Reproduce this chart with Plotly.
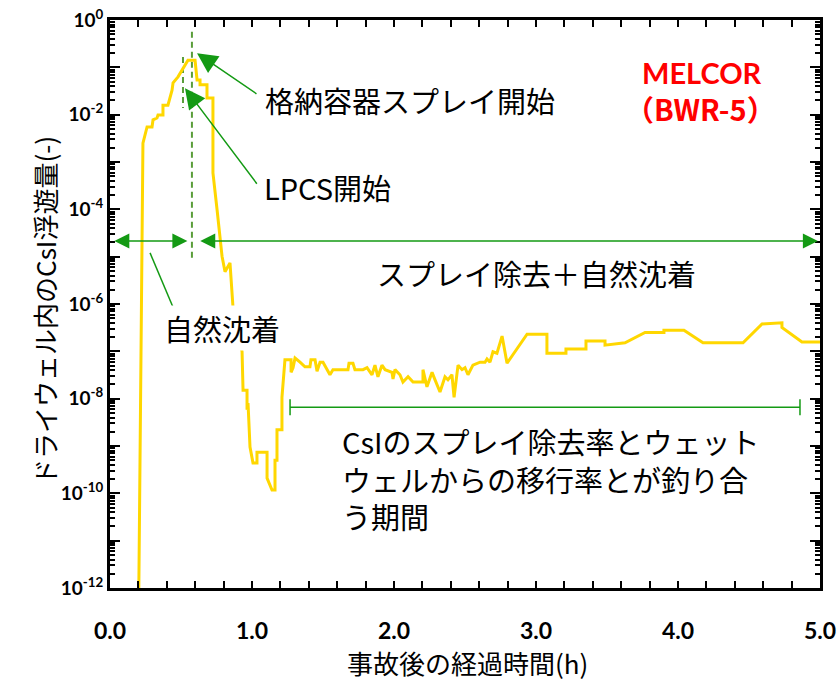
import plotly.graph_objects as go

# Time after accident (h) and CsI airborne fraction in the drywell (-)
time_h = [0.20, 0.232, 0.261, 0.296, 0.303, 0.331, 0.338, 0.373, 0.373, 0.408,
          0.437, 0.444, 0.479, 0.507, 0.528, 0.549, 0.599, 0.613, 0.634, 0.634,
          0.683, 0.683, 0.725, 0.725, 0.754, 0.789, 0.810, 0.845, 0.866, 0.930,
          0.937, 0.965, 0.965, 0.972, 0.986, 1.007, 1.035, 1.035, 1.106, 1.106,
          1.141, 1.162, 1.162, 1.176, 1.176, 1.211, 1.211, 1.232, 1.275, 1.275,
          1.289, 1.303, 1.338, 1.373, 1.408, 1.415, 1.444, 1.458, 1.479, 1.500,
          1.549, 1.570, 1.676, 1.683, 1.711, 1.725, 1.782, 1.810, 1.845, 1.866,
          1.887, 1.915, 1.937, 1.986, 1.993, 2.007, 2.042, 2.063, 2.099, 2.134,
          2.204, 2.204, 2.232, 2.268, 2.289, 2.324, 2.359, 2.380, 2.408, 2.423,
          2.451, 2.479, 2.500, 2.521, 2.556, 2.606, 2.641, 2.655, 2.676, 2.697,
          2.725, 2.761, 2.796, 2.937, 3.077, 3.077, 3.211, 3.211, 3.352, 3.352,
          3.486, 3.486, 3.627, 3.768, 3.901, 3.901, 4.042, 4.176, 4.458, 4.592,
          4.732, 4.732, 4.873, 5.000]
csi_fraction = [1e-13, 2.5e-3, 5.5e-3, 5.5e-3, 7.8e-3, 8.5e-3, 9.8e-3, 9.8e-3, 1.58e-2, 1.58e-2,
                3.3e-2, 4.7e-2, 6.3e-2, 8.7e-2, 1.12e-1, 1.41e-1, 1.41e-1, 5.4e-2, 5.4e-2, 4.3e-2,
                4.3e-2, 2.24e-2, 2.24e-2, 5.9e-4, 9.8e-5, 1.02e-5, 4.8e-6, 7.4e-6, 8.7e-7, 9.8e-8,
                1.51e-8, 1.51e-8, 5.8e-9, 8.1e-9, 9.5e-10, 4.4e-10, 4.4e-10, 7.4e-10, 7.4e-10, 2.1e-10,
                1.17e-10, 1.17e-10, 5.0e-10, 5.0e-10, 2.2e-9, 2.2e-9, 1.07e-8, 6.6e-8, 6.6e-8, 3.6e-8,
                4.5e-8, 7.2e-8, 5.9e-8, 4.7e-8, 4.7e-8, 6.6e-8, 6.6e-8, 3.8e-8, 5.9e-8, 5.9e-8,
                3.2e-8, 4.1e-8, 4.1e-8, 5.6e-8, 5.6e-8, 4.1e-8, 4.1e-8, 4.5e-8, 3.2e-8, 5.1e-8,
                2.9e-8, 5.1e-8, 4.1e-8, 3.6e-8, 2.6e-8, 4.1e-8, 3.2e-8, 2.24e-8, 2.9e-8, 2.24e-8,
                2.24e-8, 4.1e-8, 1.78e-8, 3.6e-8, 2.5e-8, 1.38e-8, 2.9e-8, 2.5e-8, 3.2e-8, 1.07e-8,
                5.1e-8, 4.1e-8, 4.5e-8, 3.2e-8, 5.1e-8, 5.9e-8, 5.9e-8, 6.9e-8, 5.9e-8, 9.8e-8,
                9.1e-8, 2.1e-7, 5.6e-8, 2.3e-7, 2.3e-7, 9.1e-8, 9.1e-8, 1.12e-7, 1.12e-7, 1.66e-7,
                1.66e-7, 1.35e-7, 1.51e-7, 2.5e-7, 2.5e-7, 2.8e-7, 2.8e-7, 1.51e-7, 1.51e-7, 3.8e-7,
                4.0e-7, 3.2e-7, 1.58e-7, 1.58e-7]

# Event times (h)
lpcs_start_h = 0.514
spray_start_h = 0.577

x_tick_vals = [0, 1, 2, 3, 4, 5]
x_tick_text = ["0.0", "1.0", "2.0", "3.0", "4.0", "5.0"]
y_exponents = list(range(0, -13, -1))

GREEN = "#149a14"
DASH_GREEN = "#5a9e3a"
JP = "Noto Sans CJK JP"
NUM = "Lato, Noto Sans CJK JP"

fig = go.Figure()

# Event markers (dashed vertical lines)
fig.add_trace(go.Scatter(x=[lpcs_start_h, lpcs_start_h], y=[10 ** -0.78, 10 ** -1.86],
                         mode="lines", line=dict(color=DASH_GREEN, width=2, dash="6px,4px"),
                         hoverinfo="skip", showlegend=False))
fig.add_trace(go.Scatter(x=[spray_start_h, spray_start_h], y=[10 ** -0.25, 10 ** -5.11],
                         mode="lines", line=dict(color=DASH_GREEN, width=2, dash="6px,4px"),
                         hoverinfo="skip", showlegend=False))

# Balance-period bracket
b0, b1, by = 1.268, 4.859, -8.18
fig.add_trace(go.Scatter(
    x=[b0, b1, None, b0, b0, None, b1, b1],
    y=[10 ** by, 10 ** by, None, 10 ** (by + 0.17), 10 ** (by - 0.17), None,
       10 ** (by + 0.17), 10 ** (by - 0.17)],
    mode="lines", line=dict(color=GREEN, width=1.5), hoverinfo="skip", showlegend=False))

# Leader line for natural deposition label
fig.add_trace(go.Scatter(x=[0.282, 0.458], y=[10 ** -4.92, 10 ** -6.17], mode="lines",
                         line=dict(color=GREEN, width=1.5), hoverinfo="skip", showlegend=False))

# CsI airborne fraction
fig.add_trace(go.Scatter(x=time_h, y=csi_fraction, mode="lines",
                         line=dict(color="#FFD700", width=3), showlegend=False))

annotations = []

def arrow(x, y, ax, ay, size=2.7, side="end"):
    annotations.append(dict(x=x, y=y, ax=ax, ay=ay, xref="x", yref="y", axref="x", ayref="y",
                            text="", showarrow=True, arrowhead=2, startarrowhead=2,
                            arrowsize=size, startarrowsize=size, arrowwidth=1.5,
                            arrowcolor=GREEN, arrowside=side))

arrow(0.613, -0.70, 1.042, -1.58)
arrow(0.528, -1.44, 1.042, -3.49)
arrow(0.545, -4.67, 0.02, -4.67, size=2, side="end+start")
arrow(4.985, -4.67, 0.625, -4.67, size=2, side="end+start")

def label(text, x, y, xanchor="center", yanchor="middle", size=29, color="black",
          family=JP, bg=None, align="left", ref="data", angle=0):
    d = dict(text=text, x=x, y=y, showarrow=False,
             xref="x" if ref == "data" else "paper", yref="y" if ref == "data" else "paper",
             xanchor=xanchor, yanchor=yanchor, align=align, textangle=angle,
             font=dict(family=family, size=size, color=color))
    if bg:
        d["bgcolor"] = bg
    annotations.append(d)

label("格納容器スプレイ開始", 1.077, -1.69, xanchor="left")
label("LPCS開始", 1.070, -3.53, xanchor="left")
label("スプレイ除去＋自然沈着", 3.007, -5.35)
label("自然沈着", 0.789, -6.51, bg="white")
label("CsIのスプレイ除去率とウェット<br>ウェルからの移行率とが釣り合<br>う期間",
      1.62, -8.40, xanchor="left", yanchor="top")
label("<b>MELCOR</b>", 4.169, -1.10, size=29, color="#FF0000", family=NUM)
label("<b>（BWR-5）</b>", 4.155, -1.86, size=29, color="#FF0000", family=JP)

# Axis titles
label("事故後の経過時間(h)", 0.503, -0.132, size=26, ref="paper", align="center")
label("ドライウェル内のCsI浮遊量(-)", -0.092, 0.489, size=26, ref="paper",
      align="center", angle=-90)

y_tick_text = ["<b>10<sup>%d</sup></b>" % e if e % 2 == 0 else "" for e in y_exponents]
minor_vals = [m * 10.0 ** e for e in range(-12, 0) for m in range(2, 10)]

fig.update_layout(
    width=837, height=683,
    margin=dict(l=110, r=17, t=20, b=95),
    plot_bgcolor="white", paper_bgcolor="white",
    annotations=annotations,
    xaxis=dict(range=[0, 5], tickmode="array", tickvals=x_tick_vals,
               ticktext=["<b>%s</b>" % t for t in x_tick_text],
               ticks="inside", ticklen=7, tickwidth=1.5, tickcolor="black",
               minor=dict(dtick=0.2, ticks="inside", ticklen=7, tickwidth=1.5, tickcolor="black"),
               showline=True, linewidth=3, linecolor="black", mirror="ticks",
               showgrid=False, zeroline=False, automargin=False, ticklabelstandoff=20,
               tickfont=dict(family=NUM, size=23, color="black")),
    yaxis=dict(type="log", range=[-12, 0], tickmode="array",
               tickvals=[10.0 ** e for e in y_exponents], ticktext=y_tick_text,
               ticks="inside", ticklen=10, tickwidth=2, tickcolor="black",
               minor=dict(tickmode="array", tickvals=minor_vals, ticks="inside", ticklen=5,
                          tickwidth=1.5, tickcolor="black"),
               showline=True, linewidth=3, linecolor="black", mirror="ticks",
               showgrid=False, zeroline=False, automargin=False,
               tickfont=dict(family=NUM, size=19, color="black")),
)

fig.write_html("out.html")
